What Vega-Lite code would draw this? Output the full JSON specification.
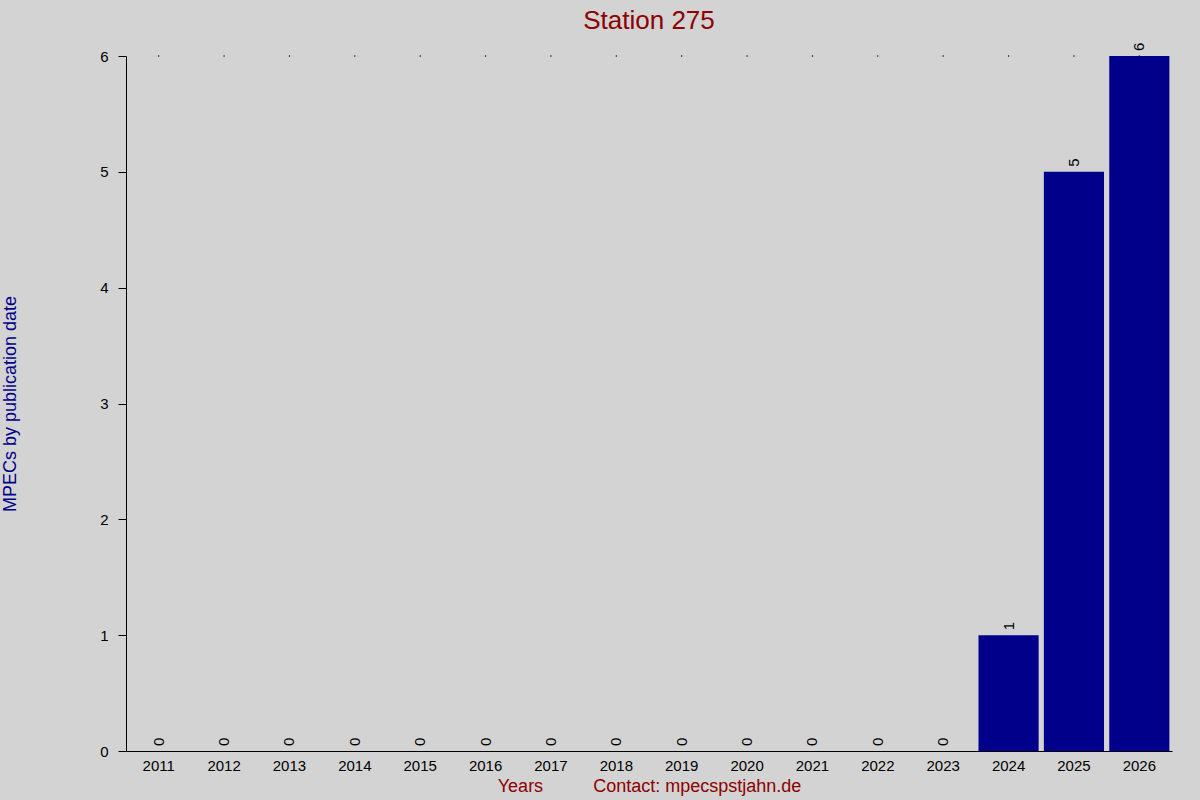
{
  "$schema": "https://vega.github.io/schema/vega-lite/v6.json",
  "autosize": {"type": "none"},
  "width": 1046,
  "height": 695,
  "padding": {"left": 126, "top": 56, "right": 28, "bottom": 49},
  "background": "#d3d3d3",
  "config": {
    "view": {"stroke": null},
    "font": "Liberation Sans",
    "axis": {"grid": false, "domainColor": "#000000", "tickColor": "#000000", "labelColor": "#000000", "labelFont": "Liberation Sans", "titleFont": "Liberation Sans", "titleFontWeight": "normal"}
  },
  "title": {"text": "Station 275", "fontSize": 26, "fontWeight": "normal", "color": "#8b0000", "anchor": "middle", "offset": 9, "font": "Liberation Sans"},
  "data": {"values": [
    {"year": "2011", "count": 0},
    {"year": "2012", "count": 0},
    {"year": "2013", "count": 0},
    {"year": "2014", "count": 0},
    {"year": "2015", "count": 0},
    {"year": "2016", "count": 0},
    {"year": "2017", "count": 0},
    {"year": "2018", "count": 0},
    {"year": "2019", "count": 0},
    {"year": "2020", "count": 0},
    {"year": "2021", "count": 0},
    {"year": "2022", "count": 0},
    {"year": "2023", "count": 0},
    {"year": "2024", "count": 1},
    {"year": "2025", "count": 5},
    {"year": "2026", "count": 6}
  ]},
  "encoding": {
    "x": {"field": "year", "type": "nominal", "sort": null,
      "scale": {"paddingInner": 0.08, "paddingOuter": 0.04},
      "axis": {"labelAngle": 0, "labelFontSize": 15, "ticks": false, "labelPadding": 7, "domainWidth": 1,
        "title": "Years\u00a0\u00a0\u00a0\u00a0\u00a0\u00a0\u00a0\u00a0\u00a0\u00a0Contact: mpecspstjahn.de", "titleColor": "#8b0000", "titleFontSize": 18, "titlePadding": 4}},
    "y": {"field": "count", "type": "quantitative", "scale": {"domain": [0, 6], "nice": false},
      "axis": {"values": [0, 1, 2, 3, 4, 5, 6], "labelOverlap": false, "tickSize": 8, "labelFontSize": 15, "labelPadding": 10,
        "title": "MPECs by publication date", "titleColor": "#00008b", "titleFontSize": 18, "titlePadding": 80}}
  },
  "layer": [
    {
      "mark": {"type": "bar", "color": "#00008b"}
    },
    {
      "mark": {"type": "text", "angle": 270, "align": "left", "baseline": "middle", "dx": 5, "fontSize": 15, "color": "#000000"},
      "encoding": {
        "text": {"field": "count", "type": "quantitative"}
      }
    },
    {
      "mark": {"type": "point", "filled": true, "size": 2, "color": "#000000", "opacity": 1},
      "encoding": {
        "y": {"datum": 6}
      }
    }
  ]
}
